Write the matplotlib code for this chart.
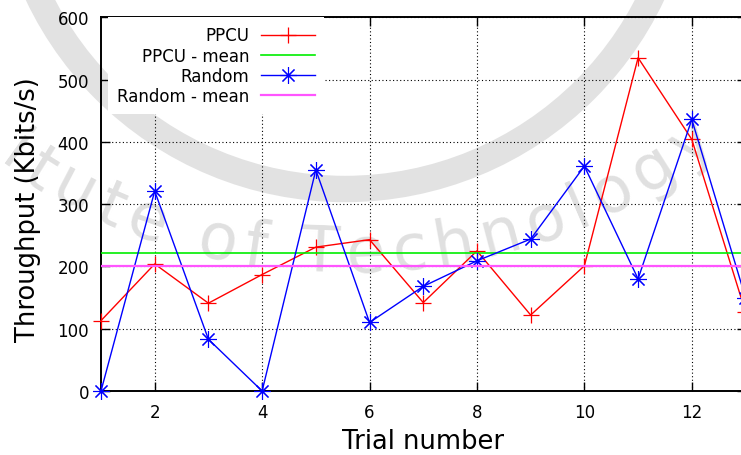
import matplotlib
matplotlib.use("Agg")
import matplotlib.pyplot as plt
from matplotlib.patches import Arc
from matplotlib.font_manager import FontProperties
import numpy as np

# ---- measured throughput per trial -----------------------------------------
trials    = [1, 2, 3, 4, 5, 6, 7, 8, 9, 10, 11, 12, 13]
ppcu      = [113, 204, 141, 187, 231, 243, 142, 225, 122, 201, 535, 404, 127]
random_   = [0, 321, 83, 0, 355, 110, 168, 209, 244, 361, 180, 436, 150]
ppcu_mean = 221
rand_mean = 201

x_ticks = [2, 4, 6, 8, 10, 12]
y_ticks = [0, 100, 200, 300, 400, 500, 600]

W, H = 741, 456
fig = plt.figure(figsize=(W / 100, H / 100), dpi=100)
fig.patch.set_facecolor("white")
renderer = fig.canvas.get_renderer()

# ---- faint institute seal behind the plot ----------------------------------
bg = fig.add_axes([0, 0, 1, 1], zorder=0)
bg.set_xlim(0, W)
bg.set_ylim(H, 0)
bg.axis("off")
cx, cy, r = 345, -150, 340
bg.add_patch(Arc((cx, cy), 2 * r, 2 * r, theta1=0, theta2=180,
                 lw=19, color="#e2e2e2"))

# lettering runs along a wider ellipse under the ring
seal = "Institute of Technology"
Rx, Ry = 500, 405
fs = 46
track = 7
prop = FontProperties(size=fs)
adv = []
for ch in seal:
    w, _, _ = renderer.get_text_width_height_descent(ch, prop, ismath=False)
    adv.append(max(w, 0.32 * fs * 100 / 72))
tt = np.radians(np.linspace(-90, 90, 3601))
ds = np.hypot(Rx * np.cos(tt), Ry * np.sin(tt)) * (tt[1] - tt[0])
s = np.concatenate([[0], np.cumsum(ds[1:])])
k0 = seal.index("T")
s0 = np.interp(np.radians(-2.9), tt, s)
for i, ch in enumerate(seal):
    if ch == " ":
        continue
    if i >= k0:
        off = sum(adv[k0:i]) + (adv[i] - adv[k0]) / 2 + track * (i - k0)
    else:
        off = -(sum(adv[i:k0]) - (adv[i] - adv[k0]) / 2 + track * (k0 - i))
    t = np.interp(s0 + off, s, tt)
    tx, ty = cx + Rx * np.sin(t), cy + Ry * np.cos(t)
    if not (0 < tx < W and 0 < ty < H):
        continue
    rot = np.degrees(np.arctan2(Ry * np.sin(t), Rx * np.cos(t)))
    bg.text(tx, ty, ch, rotation=rot, rotation_mode="anchor",
            ha="center", va="center", fontsize=fs, color="#e0e0e0")

# ---- main plot --------------------------------------------------------------
ax = fig.add_axes([101 / W, 1 - 392 / H, 644.5 / W, 373.7 / H], zorder=1)
ax.patch.set_alpha(0)

ax.plot(trials, ppcu, color="#ff0000", lw=1.0, marker="+", ms=12, mew=0.9,
        label="PPCU", clip_on=False, zorder=3)
ax.axhline(ppcu_mean, color="#00ee00", lw=1.2, label="PPCU - mean", zorder=4)
ax.plot(trials, random_, color="#0000ff", lw=1.0, marker=(8, 2, 0), ms=12,
        mew=0.8, label="Random", clip_on=False, zorder=5)
ax.axhline(rand_mean, color="#ff55ff", lw=1.6, label="Random - mean", zorder=6)

ax.set_xlim(1, 13)
ax.set_ylim(0, 600)
ax.set_xticks(x_ticks)
ax.set_yticks(y_ticks)
ax.tick_params(direction="in", length=6.5, width=1.0, top=True, right=True,
               labelsize=12, pad=8.5, colors="black")
ax.grid(True, color="black", linestyle=(0, (1, 2.2)), lw=0.8)
ax.set_axisbelow(True)
for sp in ax.spines.values():
    sp.set_linewidth(1.4)

ax.set_xlabel("Trial number", fontsize=18.5, labelpad=5)
ax.set_ylabel("Throughput (Kbits/s)", fontsize=18.5)
ax.yaxis.set_label_coords(-0.093, 0.487)

# gnuplot-style key: labels right-aligned, samples on the right
leg = ax.legend(loc="upper left", bbox_to_anchor=(0.011, 1.0),
                borderaxespad=0, borderpad=0.55, markerfirst=False,
                frameon=True, fancybox=False, framealpha=1,
                facecolor="white", edgecolor="none",
                handlelength=3.2, handletextpad=0.7, labelspacing=0.13,
                fontsize=12)
leg.set_zorder(10)
texts = leg.get_texts()
fig.canvas.draw()
target = max(t.get_window_extent(renderer).x1 for t in texts)
for _ in range(4):
    for t in texts:
        err = target - t.get_window_extent(renderer).x1
        px, py = t.get_position()
        t.set_position((px + err / 2.0, py))
    fig.canvas.draw()

fig.savefig("out.png", dpi=100)
